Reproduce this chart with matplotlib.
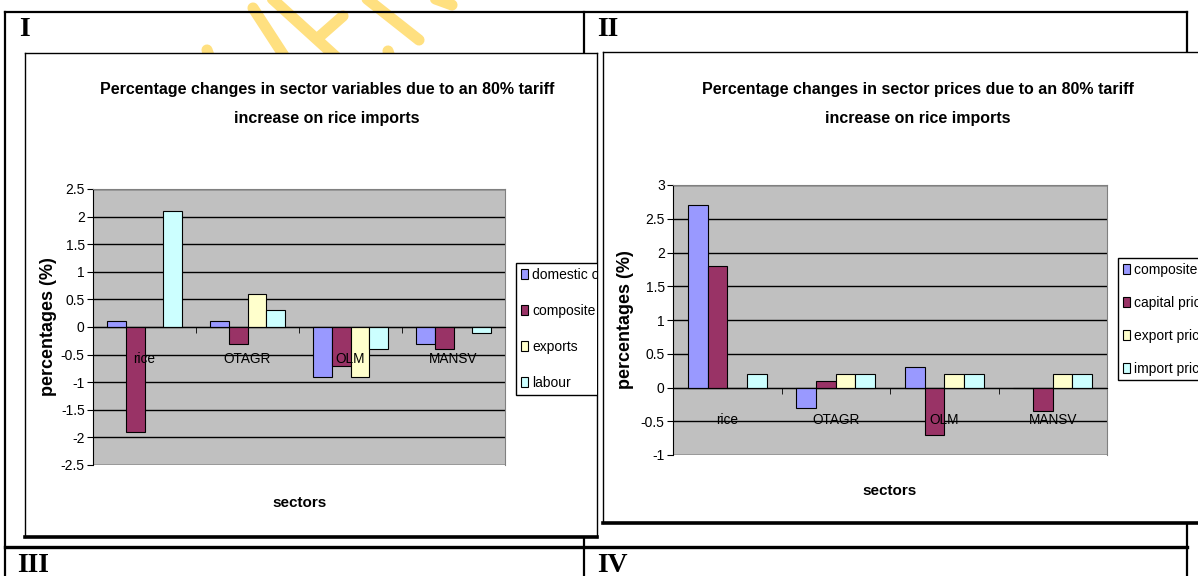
import numpy as np
import matplotlib
matplotlib.use("Agg")
import matplotlib.pyplot as plt
from matplotlib.lines import Line2D
from matplotlib.ticker import FixedLocator, FormatStrFormatter

# Data
sectors = ["rice", "OTAGR", "OLM", "MANSV"]

var_names = ["domestic output", "composite", "exports", "labour"]
var_domestic = [0.1, 0.1, -0.9, -0.3]
var_composite = [-1.9, -0.3, -0.7, -0.4]
var_exports = [0.0, 0.6, -0.9, 0.0]
var_labour = [2.1, 0.3, -0.4, -0.1]

price_names = ["composite price", "capital price", "export price", "import price"]
price_composite = [2.7, -0.3, 0.3, 0.0]
price_capital = [1.8, 0.1, -0.7, -0.35]
price_export = [0.0, 0.2, 0.2, 0.2]
price_import = [0.2, 0.2, 0.2, 0.2]

bar_colors = ["#9999FF", "#993366", "#FFFFCC", "#CCFFFF"]

W, H = 1198, 576
FONT = "Liberation Sans"
plt.rcParams['font.family'] = [FONT, 'DejaVu Sans']

fig = plt.figure(figsize=(W / 100, H / 100), dpi=100)
fig.patch.set_facecolor("white")


def box(x0, y0, x1, y1):
    # pixel box (top-left origin) -> figure fraction rect
    return [x0 / W, 1 - y1 / H, (x1 - x0) / W, (y1 - y0) / H]


def fline(xs, ys, **kw):
    fig.add_artist(Line2D([x / W for x in xs], [1 - y / H for y in ys],
                          transform=fig.transFigure, **kw))


# watermark strokes peeking above the charts
wm = dict(color="#FFE080", lw=8.0, solid_capstyle="round", zorder=-2)
for xs, ys in [((207, 214), (50, 70)), ((253, 290), (8, 65)), ((268, 345), (-5, 65)),
               ((343, 318), (16, 38)), ((362, 419), (-5, 40)), ((430, 452), (-3, 5)),
               ((388, 394), (51, 70))]:
    fline(xs, ys, **wm)

# table grid
tl = dict(color="black", lw=1.6, zorder=-1)
fline((5, 1187), (12, 12), **tl)
fline((5, 5), (12, 580), **tl)
fline((584, 584), (12, 580), **tl)
fline((1187, 1187), (12, 580), **tl)
fline((5, 1187), (547, 547), color="black", lw=2.4, zorder=-1)

roman = dict(fontfamily="Liberation Serif", fontweight="bold", fontsize=20, va="center")
fig.text(19 / W, 1 - 29 / H, "I", **roman)
fig.text(597 / W, 1 - 29 / H, "II", **roman)
fig.text(17 / W, 1 - 565 / H, "III", **roman)
fig.text(597 / W, 1 - 565 / H, "IV", **roman)


def chart_box(rect):
    bx = fig.add_axes(rect)
    bx.set_facecolor("white")
    bx.set_xticks([])
    bx.set_yticks([])
    for s in bx.spines.values():
        s.set_color("black")
        s.set_linewidth(1.0)
    bx.spines["bottom"].set_linewidth(2.6)
    return bx


def bar_chart(rect, series, names, ylim, ytick_step, ylabel_x):
    ax = fig.add_axes(rect)
    ax.set_facecolor("#C0C0C0")
    n = len(series)
    w = 1 / (n + 1.5)
    x = np.arange(len(sectors))
    for j, (vals, name, c) in enumerate(zip(series, names, bar_colors)):
        ax.bar(x - 0.5 + 0.75 * w + (j + 0.5) * w, vals, w, color=c,
               edgecolor="black", linewidth=0.8, label=name, zorder=1)
    ax.set_xlim(-0.5, len(sectors) - 0.5)
    ax.set_ylim(*ylim)
    ax.set_yticks(np.arange(ylim[0], ylim[1] + 0.01, ytick_step))
    ax.yaxis.set_major_formatter(FormatStrFormatter("%g"))
    ax.yaxis.grid(True, color="black", linewidth=1.0)
    ax.set_axisbelow(True)
    ax.xaxis.set_zorder(3)
    ax.spines["bottom"].set_position(("data", 0))
    ax.spines["bottom"].set_color("black")
    ax.spines["left"].set_color("black")
    for s in ("top", "right"):
        ax.spines[s].set_color("#808080")
    ax.set_xticks(x)
    ax.set_xticklabels(sectors)
    ax.xaxis.set_minor_locator(FixedLocator(x[:-1] + 0.5))
    ax.tick_params(axis="x", which="major", length=0, pad=18, labelsize=9.8)
    ax.tick_params(axis="x", which="minor", length=4, direction="out", color="black")
    ax.tick_params(axis="y", length=4, direction="out", labelsize=10, pad=2)
    ax.set_ylabel("percentages (%)", fontweight="bold", fontsize=13, va="center")
    ax.yaxis.set_label_coords(ylabel_x, 0.5)
    ax.set_xlabel("sectors", fontweight="bold", fontsize=11, va="center")
    return ax


leg_kw = dict(loc="upper left", bbox_transform=fig.transFigure, fontsize=10, frameon=True,
              fancybox=False, edgecolor="black", framealpha=1, borderpad=0.35,
              handlelength=0.5, handleheight=0.75, handletextpad=0.3, borderaxespad=0)

# chart I
box1 = chart_box(box(25, 53, 597, 537))
ax1 = bar_chart(box(93, 189, 505, 465),
                [var_domestic, var_composite, var_exports, var_labour], var_names,
                (-2.5, 2.5), 0.5, -0.108)
ax1.xaxis.set_label_coords(0.502, -0.138)
fig.text(327 / W, 1 - 104 / H,
         "Percentage changes in sector variables due to an 80% tariff\nincrease on rice imports",
         ha="center", va="center", fontweight="bold", fontsize=11.5, linespacing=2.2)
leg1 = ax1.legend(bbox_to_anchor=(516 / W, 1 - 263 / H), labelspacing=1.58, **leg_kw)
leg1.get_frame().set_linewidth(1.0)
for a in [leg1.legendPatch, *leg1.get_texts(), *leg1.legend_handles]:
    a.set_clip_box(box1.bbox)
    a.set_clip_on(True)

# chart II
box2 = chart_box(box(603, 52, 1230, 523))
ax2 = bar_chart(box(673, 185, 1107, 455),
                [price_composite, price_capital, price_export, price_import], price_names,
                (-1, 3), 0.5, -0.11)
ax2.xaxis.set_label_coords(0.5, -0.133)
fig.text(918 / W, 1 - 104 / H,
         "Percentage changes in sector prices due to an 80% tariff\nincrease on rice imports",
         ha="center", va="center", fontweight="bold", fontsize=11.5, linespacing=2.2)
leg2 = ax2.legend(bbox_to_anchor=(1118 / W, 1 - 258 / H), labelspacing=1.36, **leg_kw)
leg2.get_frame().set_linewidth(1.0)

fig.savefig("out.png", dpi=100, facecolor="white")
